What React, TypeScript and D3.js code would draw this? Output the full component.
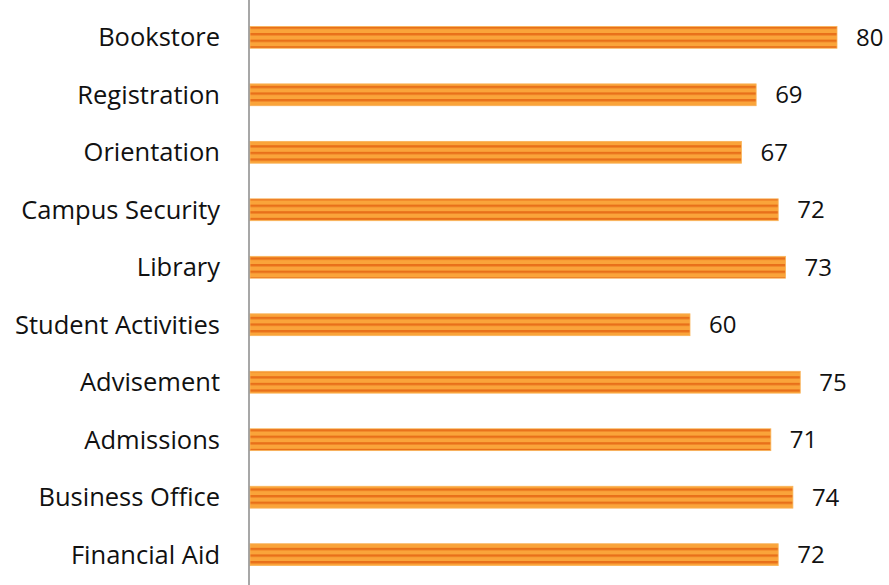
import React, { useEffect, useRef } from "react";
import * as d3 from "d3";

const categories = [
  "Bookstore",
  "Registration",
  "Orientation",
  "Campus Security",
  "Library",
  "Student Activities",
  "Advisement",
  "Admissions",
  "Business Office",
  "Financial Aid",
];
const values = [80, 69, 67, 72, 73, 60, 75, 71, 74, 72];

const App: React.FC = () => {
  const svgRef = useRef<SVGSVGElement | null>(null);

  useEffect(() => {
    if (!svgRef.current) return;
    const svg = d3.select(svgRef.current);
    svg.selectAll("*").remove();

    const height = 585;
    const left = 249;

    const x = d3.scaleLinear().domain([0, 80]).range([left, 837]);
    const y = d3
      .scaleBand()
      .domain(categories)
      .range([8, 584])
      .paddingInner(0.62)
      .paddingOuter(0.32);

    // striped fill
    const defs = svg.append("defs");
    const pat = defs
      .append("pattern")
      .attr("id", "stripes")
      .attr("patternUnits", "userSpaceOnUse")
      .attr("width", 8)
      .attr("height", 6.6);
    pat.append("rect").attr("width", 8).attr("height", 6.6).attr("fill", "#FAA43A");
    pat.append("rect").attr("y", 0).attr("width", 8).attr("height", 2.4).attr("fill", "#E8701A");

    const rows = categories.map((c, i) => ({ c, v: values[i] }));

    svg
      .selectAll("rect.bar")
      .data(rows)
      .enter()
      .append("rect")
      .attr("class", "bar")
      .attr("x", x(0) + 1)
      .attr("y", (d) => y(d.c)!)
      .attr("width", (d) => x(d.v) - x(0) - 1)
      .attr("height", y.bandwidth())
      .attr("fill", "url(#stripes)")
      .attr("stroke", "#F9B45A")
      .attr("stroke-width", 0.8);

    // axis line
    svg
      .append("line")
      .attr("x1", left)
      .attr("x2", left)
      .attr("y1", 0)
      .attr("y2", height)
      .attr("stroke", "#8a8a8a")
      .attr("stroke-width", 1.5);

    const font = "'Open Sans', 'Liberation Sans', sans-serif";

    svg
      .selectAll("text.cat")
      .data(rows)
      .enter()
      .append("text")
      .attr("class", "cat")
      .attr("x", 220)
      .attr("y", (d) => y(d.c)! + y.bandwidth() / 2)
      .attr("dy", "0.36em")
      .attr("text-anchor", "end")
      .attr("font-family", font)
      .attr("font-size", 25.5)
      .attr("fill", "#111")
      .text((d) => d.c);

    svg
      .selectAll("text.val")
      .data(rows)
      .enter()
      .append("text")
      .attr("class", "val")
      .attr("x", (d) => x(d.v) + 19)
      .attr("y", (d) => y(d.c)! + y.bandwidth() / 2)
      .attr("dy", "0.36em")
      .attr("font-family", font)
      .attr("font-size", 24)
      .attr("fill", "#111")
      .text((d) => d.v);
  }, []);

  return (
    <svg
      ref={svgRef}
      width={889}
      height={585}
      style={{ position: "absolute", left: 0, top: 0, background: "#fff" }}
    ></svg>
  );
};

export default App;
